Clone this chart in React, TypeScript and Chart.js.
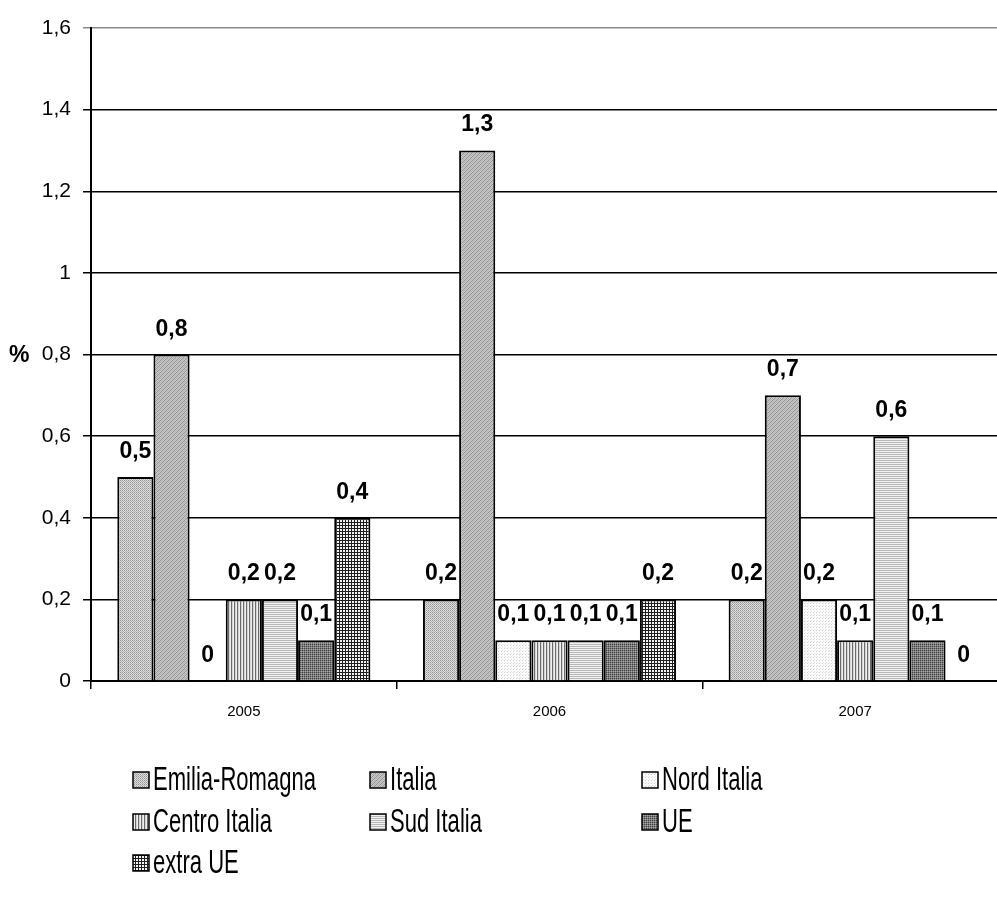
import { useEffect, useRef } from 'react';
import { Chart, registerables } from 'chart.js';

Chart.register(...registerables);

const categories = ['2005', '2006', '2007'];
const seriesNames = ['Emilia-Romagna', 'Italia', 'Nord Italia', 'Centro Italia', 'Sud Italia', 'UE', 'extra UE'];
const emiliaRomagna = [0.5, 0.2, 0.2];
const italia = [0.8, 1.3, 0.7];
const nordItalia = [0, 0.1, 0.2];
const centroItalia = [0.2, 0.1, 0.1];
const sudItalia = [0.2, 0.1, 0.6];
const ue = [0.1, 0.1, 0.1];
const extraUe = [0.4, 0.2, 0];
const yMin = 0;
const yMax = 1.6;
const yStep = 0.2;
const yUnitLabel = '%';

const FONT = '"Liberation Sans", Arial, sans-serif';

function fmt(v: number): string {
  return Number(v.toFixed(1)).toString().replace('.', ',');
}

function makePattern(ctx: CanvasRenderingContext2D, w: number, h: number, px: (x: number, y: number) => string) {
  const c = document.createElement('canvas');
  c.width = w;
  c.height = h;
  const g = c.getContext('2d')!;
  for (let y = 0; y < h; y++) {
    for (let x = 0; x < w; x++) {
      g.fillStyle = px(x, y);
      g.fillRect(x, y, 1, 1);
    }
  }
  return ctx.createPattern(c, 'repeat') as CanvasPattern;
}

export default function App() {
  const ref = useRef<HTMLCanvasElement>(null);

  useEffect(() => {
    const canvas = ref.current!;
    const ctx = canvas.getContext('2d')!;

    const patterns = [
      // Emilia-Romagna: fine dots
      makePattern(ctx, 2, 2, (x, y) => ((x + y) % 2 === 0 ? (x === 0 ? '#949494' : '#b0b0b0') : '#dedede')),
      // Italia: fine diagonal hatch
      makePattern(ctx, 4, 4, (x, y) => ((x + y) % 4 === 0 ? '#909090' : (x + y) % 4 === 2 ? '#b4b4b4' : '#c8c8c8')),
      // Nord Italia: very light dots
      makePattern(ctx, 3, 3, (x, y) => (x === 0 && y === 0 ? '#cccccc' : x === 1 && y === 2 ? '#e2e2e2' : '#fcfcfc')),
      // Centro Italia: vertical lines
      makePattern(ctx, 3, 1, (x) => (x === 0 ? '#6a6a6a' : x === 1 ? '#d4d4d4' : '#f0f0f0')),
      // Sud Italia: horizontal fine lines
      makePattern(ctx, 1, 2, (_x, y) => (y === 0 ? '#b8b8b8' : '#f2f2f2')),
      // UE: dark cross-hatch
      makePattern(ctx, 2, 2, (x, y) => (x === 0 && y === 0 ? '#404040' : x === 1 && y === 1 ? '#a8a8a8' : '#7c7c7c')),
      // extra UE: grid
      makePattern(ctx, 3, 3, (x, y) => (x === 0 || y === 0 ? '#1e1e1e' : '#f4f4f4')),
    ];

    const values = [emiliaRomagna, italia, nordItalia, centroItalia, sudItalia, ue, extraUe];

    const labelPlugin = {
      id: 'valueLabels',
      afterDatasetsDraw(chart: any) {
        const c = chart.ctx;
        c.save();
        c.font = `bold 23px ${FONT}`;
        c.fillStyle = '#000';
        c.textAlign = 'center';
        c.textBaseline = 'alphabetic';
        chart.data.datasets.forEach((ds: any, i: number) => {
          const meta = chart.getDatasetMeta(i);
          meta.data.forEach((el: any, j: number) => {
            c.fillText(fmt(ds.data[j]), el.x, el.y - 19);
          });
        });
        // unit label
        const yScale = chart.scales.y;
        c.font = `bold 23px ${FONT}`;
        c.textAlign = 'left';
        c.textBaseline = 'middle';
        c.fillText(yUnitLabel, 9, yScale.getPixelForValue(0.8) + 1);
        c.restore();
      },
    };

    const legendPlugin = {
      id: 'gridLegend',
      afterDraw(chart: any) {
        const c = chart.ctx;
        const colX = [133, 370, 642];
        const rowY = [780, 822, 863];
        const box = 16;
        c.save();
        c.font = `33px ${FONT}`;
        const sx = 163 / c.measureText('Emilia-Romagna').width;
        c.textBaseline = 'middle';
        c.textAlign = 'left';
        chart.data.datasets.forEach((ds: any, i: number) => {
          const x = colX[i % 3];
          const y = rowY[Math.floor(i / 3)];
          c.fillStyle = ds.backgroundColor;
          c.fillRect(x, y - box / 2, box, box);
          c.strokeStyle = '#000';
          c.lineWidth = 1.5;
          c.strokeRect(x, y - box / 2, box, box);
          c.save();
          c.translate(x + 20, y + 1);
          c.scale(sx, 1);
          c.fillStyle = '#000';
          c.fillText(ds.label, 0, 0);
          c.restore();
        });
        c.restore();
      },
    };

    const chart = new Chart(ctx, {
      type: 'bar',
      data: {
        labels: categories,
        datasets: seriesNames.map((name, i) => ({
          label: name,
          data: values[i],
          backgroundColor: patterns[i] as any,
          borderColor: '#000',
          borderWidth: 2,
          categoryPercentage: 0.828,
          barPercentage: 1,
        })),
      },
      options: {
        responsive: false,
        animation: false,
        layout: { padding: { top: 28, left: 0, right: 0, bottom: 0 } },
        plugins: {
          legend: { display: false },
          tooltip: { enabled: false },
        },
        scales: {
          x: {
            grid: {
              display: true,
              drawOnChartArea: false,
              drawTicks: true,
              tickLength: 8,
              color: '#000',
              lineWidth: 1.5,
              offset: true,
            },
            border: { display: true, color: '#000', width: 2 },
            ticks: { font: { size: 15, family: FONT }, color: '#000', padding: 14 },
            afterFit: (s: any) => {
              s.height = 216;
            },
          },
          y: {
            min: yMin,
            max: yMax,
            ticks: {
              stepSize: yStep,
              font: { size: 21, family: FONT },
              color: '#000',
              padding: 12,
              callback: (v: any) => fmt(Number(v)),
            },
            grid: {
              color: (c: any) => (c.tick && c.tick.value >= yMax - 1e-6 ? '#888' : '#000'),
              lineWidth: 1.5,
              tickLength: 8,
            },
            border: { display: true, color: '#000', width: 2 },
            afterFit: (s: any) => {
              s.width = 91;
            },
          },
        },
      },
      plugins: [labelPlugin, legendPlugin],
    });

    return () => chart.destroy();
  }, []);

  return (
    <div style={{ position: 'fixed', left: 0, top: 0, width: 997, height: 897, overflow: 'hidden', background: '#fff' }}>
      <canvas ref={ref} width={1008} height={897} style={{ display: 'block' }} />
    </div>
  );
}
